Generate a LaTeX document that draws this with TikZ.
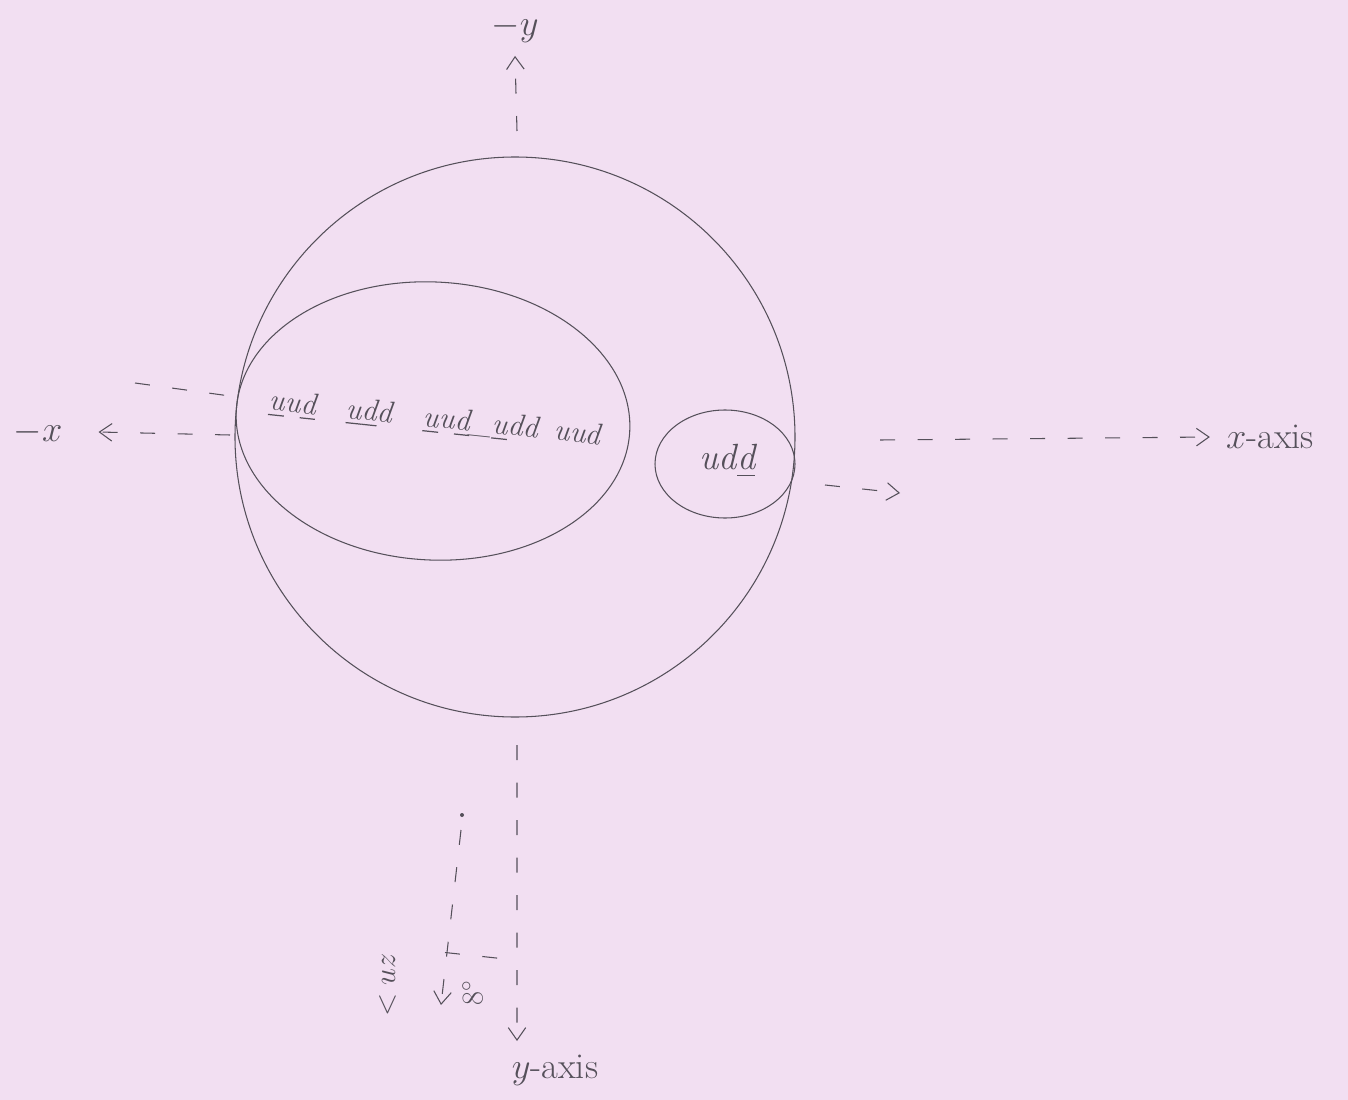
\documentclass[tikz,border=0pt]{standalone}
\usepackage{amssymb,amsmath}
\usetikzlibrary{positioning,shapes.geometric,arrows.meta,calc}
\definecolor{paper}{RGB}{242,223,242}
\definecolor{pencil}{RGB}{85,80,90}
\tikzset{every node/.append style={font=\huge, text=pencil}}

\begin{document}
\begin{tikzpicture}
		\tikzstyle{outline} = [draw=pencil, line width=0.6pt];
		\tikzstyle{axisline} = [draw=pencil, line width=0.6pt, dash pattern=on 0.3cm off 0.45cm];
		\tikzstyle{axistip} = [-{Straight Barb[length=2.5mm, width=3.5mm]}];
		\tikzstyle{quarkbag} = [ellipse, draw=pencil, line width=0.6pt, inner sep=0pt];
		\fill[paper] (0,0) rectangle (26.96,-22);
		\useasboundingbox (0,0) rectangle (26.96,-22);
		% nucleus and the two groups
		\node (sphere) [circle, outline, minimum size=11.2cm] at (10.3,-8.74) {};
		\node (bigbag) [quarkbag, minimum width=7.88cm, minimum height=5.56cm, rotate=-3] at (8.66,-8.42) {};
		\node (smallbag) [quarkbag, minimum width=2.8cm, minimum height=2.16cm] at (14.5,-9.28) {};
		\node (bigtext) [rotate=-6, font=\LARGE\itshape] at (8.7,-8.4) {\underline{u}u\underline{d}\enspace\, \underline{u}\underline{d}d\enspace\, \underline{u}u\underline{d}\_\underline{u}dd\, uud};
		\node (smalltext) [font=\huge\itshape] at (14.55,-9.22) {ud\underline{d}};
		% axis labels
		\node (xlab) at (25.4,-8.74) {$x$-axis};
		\node (mxlab) at (0.76,-8.64) {$-x$};
		\node (mylab) at (10.3,-0.56) {$-y$};
		\node (ylab) at (11.1,-21.4) {$y$-axis};
		\node (zlab) [rotate=90, font=\LARGE] at (7.75,-19.7) {$<uz$};
		\node (anglab) [rotate=90, font=\LARGE] at (9.45,-19.85) {$8^{\circ}$};
		\coordinate (xright) at (17.6,-8.8);
		\coordinate (xleft) at (4.6,-8.7);
		\coordinate (ytop) at (10.34,-2.62);
		\coordinate (ybot) at (10.34,-14.9);
		\coordinate (slant) at (9.22,-16.6);
		\coordinate (slantend) at (8.82,-20.1);
		\coordinate (kneeL) at (8.9,-19.05);
		\coordinate (kneeR) at (10.3,-19.2);
		% axes
		\draw[axisline, axistip] (xright) -- ($(xlab.west)+(-0.2,0)$);
		\draw[axisline, axistip] (xleft) -- ($(mxlab.east)+(0.6,0)$);
		\draw[axisline, axistip] (ytop) -- ($(mylab.south)+(0,-0.15)$);
		\draw[axisline, axistip] (ybot) -- ($(ylab.north)+(-0.76,0.15)$);
		\draw[axisline] (2.7,-7.66) -- (4.6,-7.92);
		\draw[axisline, axistip] (16.5,-9.7) -- (18.0,-9.86);
		\fill[pencil] (9.24,-16.3) circle (0.04);
		\draw[axisline, axistip] (slant) -- (slantend);
		\draw[axisline] (kneeL) -- (kneeR);
\end{tikzpicture}
\end{document}
